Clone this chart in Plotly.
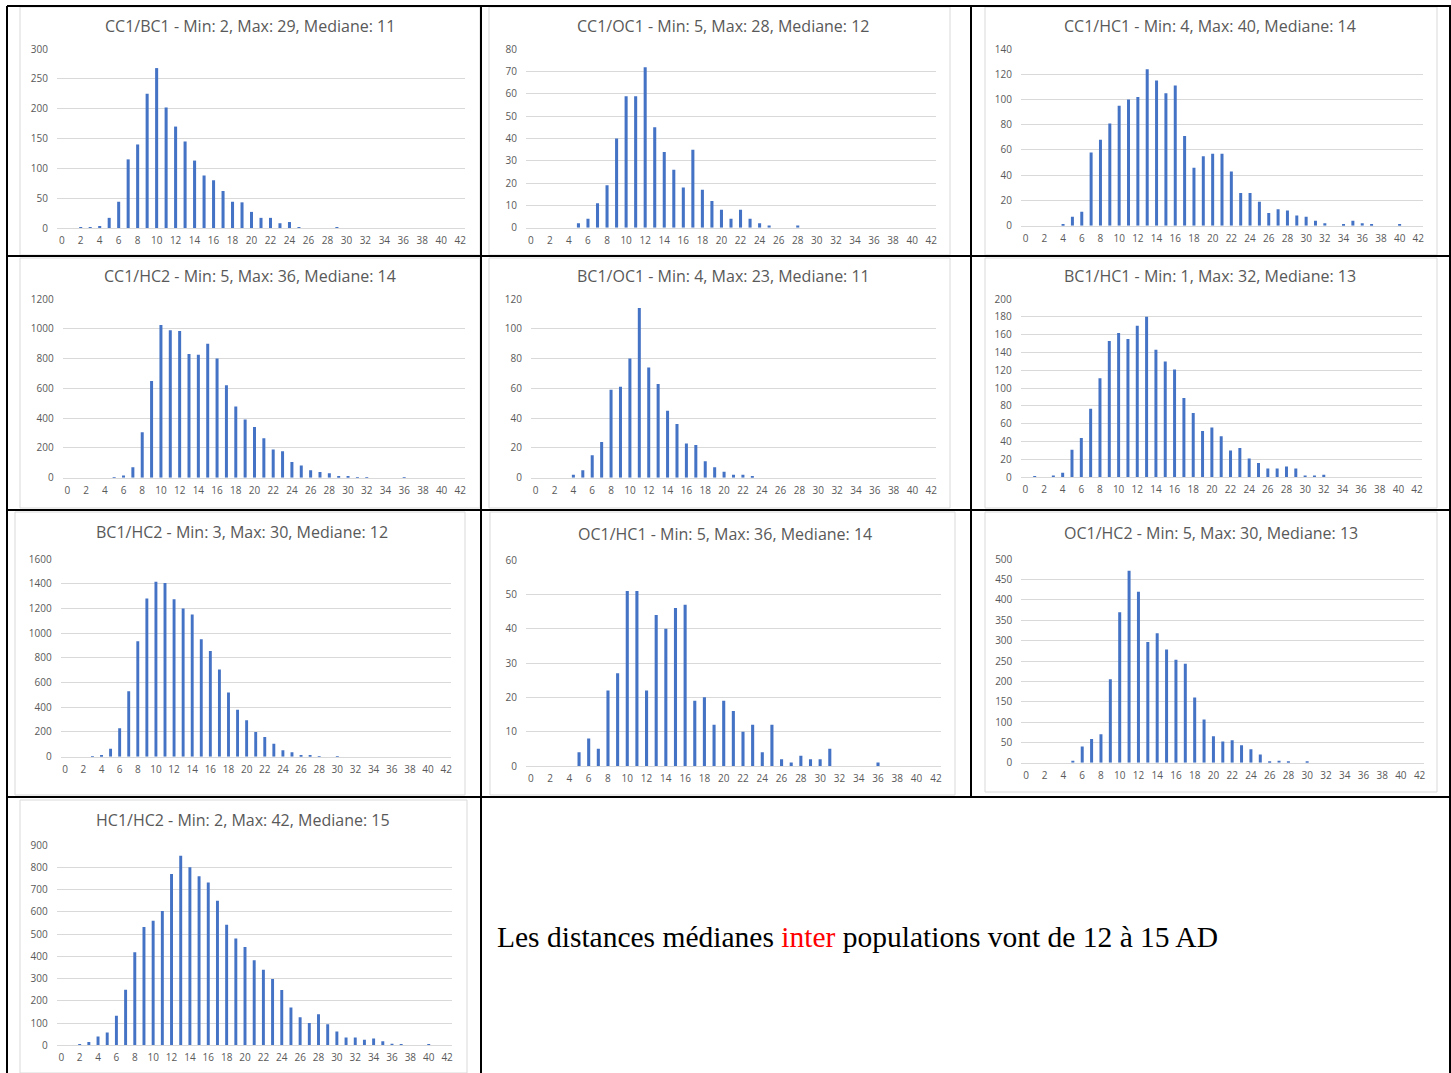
import plotly.graph_objects as go

W, H = 1451, 1073

# Distance (number of allelic differences) on the horizontal axis
distance = list(range(43))
x_ticks = list(range(0, 43, 2))

# Pair counts per distance, one list per population pair (index = distance)
cc1_bc1 = [0, 0, 1, 1, 2, 17, 44, 115, 140, 225, 268, 202, 170, 145, 113, 88, 80, 62, 44, 43,
           27, 17, 17, 8, 10, 1, 0, 0, 0, 1, 0, 0, 0, 0, 0, 0, 0, 0, 0, 0, 0, 0, 0]
cc1_oc1 = [0, 0, 0, 0, 0, 2, 4, 11, 19, 40, 59, 59, 72, 45, 34, 26, 18, 35, 17, 12,
           8, 4, 8, 4, 2, 1, 0, 0, 1, 0, 0, 0, 0, 0, 0, 0, 0, 0, 0, 0, 0, 0, 0]
cc1_hc1 = [0, 0, 0, 0, 1, 7, 11, 58, 68, 81, 95, 100, 102, 124, 115, 105, 111, 71, 46, 55,
           57, 57, 43, 26, 26, 19, 10, 13, 12, 8, 7, 4, 2, 0, 1, 4, 2, 1, 0, 0, 1, 0, 0]
cc1_hc2 = [0, 0, 0, 0, 0, 3, 15, 70, 305, 650, 1025, 990, 985, 830, 825, 900, 800, 620, 478, 390,
           340, 265, 190, 178, 105, 82, 50, 38, 30, 12, 5, 4, 4, 0, 0, 0, 1, 0, 0, 0, 0, 0, 0]
bc1_oc1 = [0, 0, 0, 0, 2, 5, 15, 24, 59, 61, 80, 114, 74, 63, 45, 36, 23, 22, 11, 7,
           4, 2, 2, 1, 0, 0, 0, 0, 0, 0, 0, 0, 0, 0, 0, 0, 0, 0, 0, 0, 0, 0, 0]
bc1_hc1 = [0, 1, 0, 2, 5, 31, 44, 77, 111, 153, 162, 155, 170, 180, 143, 130, 121, 89, 72, 52,
           56, 46, 30, 33, 21, 16, 10, 10, 12, 10, 2, 2, 3, 0, 0, 0, 0, 0, 0, 0, 0, 0, 0]
bc1_hc2 = [0, 0, 0, 3, 12, 65, 230, 530, 935, 1280, 1415, 1405, 1275, 1200, 1150, 950, 855, 705, 520, 380,
           295, 200, 160, 105, 52, 36, 12, 12, 3, 0, 1, 0, 0, 0, 0, 0, 0, 0, 0, 0, 0, 0, 0]
oc1_hc1 = [0, 0, 0, 0, 0, 4, 8, 5, 22, 27, 51, 51, 22, 44, 40, 46, 47, 19, 20, 12,
           19, 16, 10, 12, 4, 12, 2, 1, 3, 2, 2, 5, 0, 0, 0, 0, 1, 0, 0, 0, 0, 0, 0]
oc1_hc2 = [0, 0, 0, 0, 0, 5, 40, 58, 70, 205, 370, 472, 420, 297, 318, 278, 253, 243, 160, 106,
           65, 52, 55, 43, 33, 20, 2, 5, 2, 0, 1, 0, 0, 0, 0, 0, 0, 0, 0, 0, 0, 0, 0]
hc1_hc2 = [0, 0, 2, 15, 40, 57, 133, 250, 418, 532, 560, 603, 770, 852, 800, 760, 732, 650, 542, 480,
           442, 382, 340, 298, 248, 170, 126, 100, 140, 95, 62, 35, 35, 25, 30, 18, 7, 4, 0, 0, 3, 0, 1]

titles = [
    "CC1/BC1 - Min: 2, Max: 29, Mediane: 11",
    "CC1/OC1 - Min: 5, Max: 28, Mediane: 12",
    "CC1/HC1 - Min: 4, Max: 40, Mediane: 14",
    "CC1/HC2 - Min: 5, Max: 36, Mediane: 14",
    "BC1/OC1 - Min: 4, Max: 23, Mediane: 11",
    "BC1/HC1 - Min: 1, Max: 32, Mediane: 13",
    "BC1/HC2 - Min: 3, Max: 30, Mediane: 12",
    "OC1/HC1 - Min: 5, Max: 36, Mediane: 14",
    "OC1/HC2 - Min: 5, Max: 30, Mediane: 13",
    "HC1/HC2 - Min: 2, Max: 42, Mediane: 15",
]
series = [cc1_bc1, cc1_oc1, cc1_hc1, cc1_hc2, bc1_oc1, bc1_hc1, bc1_hc2, oc1_hc1, oc1_hc2, hc1_hc2]
y_max = [300, 80, 140, 1200, 120, 200, 1600, 60, 500, 900]
y_step = [50, 10, 20, 200, 20, 20, 200, 10, 50, 100]

# Plot-area boxes in pixels: (left, top, right, bottom)
plot_boxes = [
    (57, 49, 465, 228), (526, 49.3, 936, 227.7), (1021, 49, 1423, 225.7),
    (62.7, 299, 465, 477.7), (531, 299, 936, 477.7), (1020.7, 299, 1421.7, 477.3),
    (60.7, 559, 450.7, 756.7), (526, 560, 940.7, 766), (1021.3, 559.3, 1424.3, 762.7),
    (56.7, 845, 451.7, 1045.3),
]
# Chart frames (light grey) and title centres in pixels
chart_frames = [
    (20, 7, 480, 255), (489, 7, 950, 255), (985, 7, 1437, 255),
    (20, 258, 480, 508), (489, 258, 950, 508), (985, 258, 1437, 508),
    (15, 512, 465, 795), (490, 512, 955, 795), (985, 512, 1437, 792),
    (20, 800, 467, 1073),
]
title_pos = [(250, 26), (723, 26), (1210, 26), (250, 276), (723, 276), (1210, 276),
             (242, 532), (725, 534), (1211, 533), (243, 820)]

BAR_BLUE = "#4472C4"
GRID = "#d9d9d9"
TEXT_GREY = "#595959"
FONT = "Open Sans"


def px_x(v):
    return v / W


def px_y(v):
    return 1 - v / H


fig = go.Figure()
layout = dict(
    width=W, height=H,
    margin=dict(l=0, r=0, t=0, b=0, pad=0, autoexpand=False),
    paper_bgcolor="white", plot_bgcolor="white",
    showlegend=False,
    font=dict(family=FONT, color=TEXT_GREY),
)
shapes = []
annotations = []

for i, (vals, box) in enumerate(zip(series, plot_boxes)):
    n = "" if i == 0 else str(i + 1)
    fig.add_trace(go.Bar(
        x=distance, y=vals, width=0.32,
        marker=dict(color=BAR_BLUE, line=dict(width=0)),
        xaxis="x" + n, yaxis="y" + n,
    ))
    l, t, r, b = box
    layout["xaxis" + n] = dict(
        domain=[px_x(l), px_x(r)], anchor="y" + n,
        range=[-0.5, 42.5], tickmode="array", tickvals=x_ticks,
        showgrid=False, zeroline=False, showline=True, linecolor=GRID, linewidth=1,
        ticks="", tickfont=dict(size=10, color=TEXT_GREY, family=FONT),
        ticklabelstandoff=3, fixedrange=True, automargin=False,
    )
    layout["yaxis" + n] = dict(
        domain=[px_y(b), px_y(t)], anchor="x" + n,
        range=[0, y_max[i]], tick0=0, dtick=y_step[i],
        showgrid=True, gridcolor=GRID, gridwidth=1, zeroline=False, showline=False,
        ticks="", tickfont=dict(size=10, color=TEXT_GREY, family=FONT),
        ticklabelstandoff=8, fixedrange=True, automargin=False,
    )
    fl, ft, fr, fb = chart_frames[i]
    shapes.append(dict(type="rect", xref="paper", yref="paper",
                       x0=px_x(fl), x1=px_x(fr), y0=px_y(fb), y1=px_y(ft),
                       line=dict(color=GRID, width=1), fillcolor="rgba(0,0,0,0)", layer="below"))
    tx, ty = title_pos[i]
    annotations.append(dict(text=titles[i], xref="paper", yref="paper",
                            x=px_x(tx), y=px_y(ty), xanchor="center", yanchor="middle",
                            showarrow=False, font=dict(size=16, color=TEXT_GREY, family=FONT)))

# Table rules (black) around and between the cells
table_lines = [
    (7, 6, 1451, 6), (7, 256, 1451, 256), (7, 510, 1451, 510), (7, 797, 1451, 797),
    (7, 6, 7, 1073), (481, 6, 481, 1073), (971, 6, 971, 797), (1450, 6, 1450, 1073),
]
for x0, y0, x1, y1 in table_lines:
    shapes.append(dict(type="line", xref="paper", yref="paper",
                       x0=px_x(x0), x1=px_x(x1), y0=px_y(y0), y1=px_y(y1),
                       line=dict(color="black", width=2), layer="above"))

annotations.append(dict(
    text='Les distances médianes <span style="color:#ff0000">inter</span> populations vont de 12 à 15 AD',
    xref="paper", yref="paper", x=px_x(495), y=px_y(937),
    xanchor="left", yanchor="middle", showarrow=False,
    font=dict(size=29.5, color="black", family="Liberation Serif"),
))

layout["shapes"] = shapes
layout["annotations"] = annotations
fig.update_layout(**layout)

# Page without body margin so the figure sits flush in the window
fig.write_html(
    "out.html",
    config={"displayModeBar": False},
    post_script="document.body.style.margin='0';document.body.style.overflow='hidden';",
)
